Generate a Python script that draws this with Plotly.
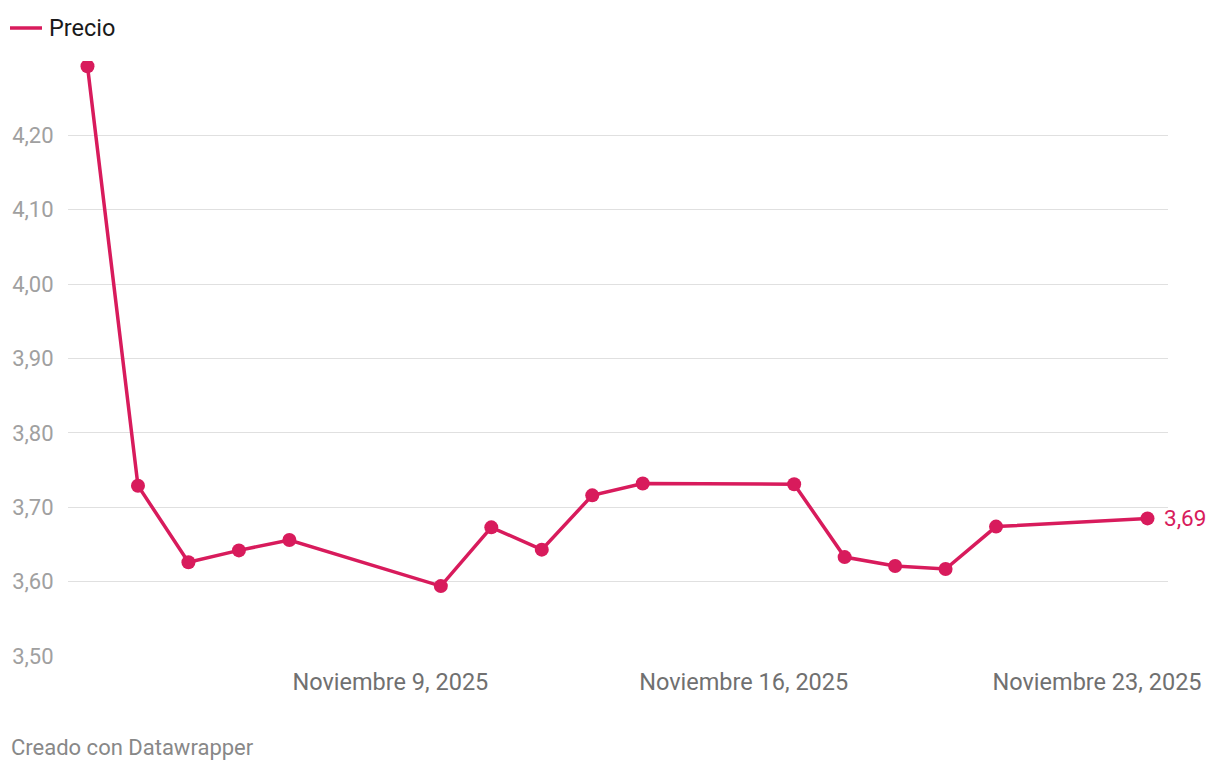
import plotly.graph_objects as go

fechas = ["2025-11-03", "2025-11-04", "2025-11-05", "2025-11-06", "2025-11-07",
          "2025-11-10", "2025-11-11", "2025-11-12", "2025-11-13", "2025-11-14",
          "2025-11-17", "2025-11-18", "2025-11-19", "2025-11-20", "2025-11-21",
          "2025-11-24"]
precio = [4.293, 3.729, 3.626, 3.642, 3.656,
          3.594, 3.673, 3.643, 3.716, 3.732,
          3.731, 3.633, 3.621, 3.617, 3.674,
          3.685]

x_tickvals = ["2025-11-09", "2025-11-16", "2025-11-23"]
x_ticktext = ["Noviembre 9, 2025", "Noviembre 16, 2025", "Noviembre 23, 2025"]
y_tickvals = [3.5, 3.6, 3.7, 3.8, 3.9, 4.0, 4.1, 4.2]
y_ticktext = ["3,50", "3,60", "3,70", "3,80", "3,90", "4,00", "4,10", "4,20"]

COLOR = "#d81b5c"
FONT = "Roboto"

# page has an 8px body margin, so the figure is drawn 8px smaller
W, H = 1212, 764
ML, MR, MT, MB = 60, 52, 53, 116
PW, PH = W - ML - MR, H - MT - MB

fig = go.Figure()
fig.add_trace(go.Scatter(
    x=fechas, y=precio, mode="lines+markers", name="Precio",
    line=dict(color=COLOR, width=3.5),
    marker=dict(color=COLOR, size=14),
    showlegend=False, hoverinfo="skip",
))

fig.update_layout(
    width=W, height=H,
    margin=dict(l=ML, r=MR, t=MT, b=MB, autoexpand=False),
    paper_bgcolor="white", plot_bgcolor="white",
    font=dict(family=FONT, size=20, color="#a0a0a0"),
    separators=",.",
    xaxis=dict(
        type="date", automargin=False,
        range=["2025-11-02 14:44", "2025-11-24 09:45"],
        tickvals=x_tickvals, ticktext=x_ticktext,
        showgrid=False, zeroline=False, showline=False,
        ticks="outside", ticklen=5, tickcolor="rgba(0,0,0,0)",
        tickfont=dict(family=FONT, size=23.5, color="#707070"),
    ),
    yaxis=dict(
        automargin=False,
        range=[3.5, 4.3],
        tickvals=y_tickvals, ticktext=y_ticktext,
        showgrid=True, gridcolor="#e0e0e0", gridwidth=1.3,
        zeroline=False, showline=False,
        ticks="outside", ticklen=9, tickcolor="rgba(0,0,0,0)",
        tickfont=dict(family=FONT, size=22, color="#a0a0a0"),
    ),
)

# legend
ly = 1 + (MT - 20) / PH
fig.add_shape(type="line", xref="paper", yref="paper",
              x0=(2 - ML) / PW, x1=(34 - ML) / PW, y0=ly, y1=ly,
              line=dict(color=COLOR, width=3.5))
fig.add_annotation(xref="paper", yref="paper", x=(39 - ML) / PW, y=ly,
                   text="Precio", showarrow=False, xanchor="left", yanchor="middle",
                   font=dict(family=FONT, size=23.5, color="#1a1a1a"))

# last value label
fig.add_annotation(x=fechas[-1], y=precio[-1], text="3,69", showarrow=False,
                   xanchor="left", yanchor="middle", xshift=15,
                   font=dict(family=FONT, size=22.5, color=COLOR))

# footer
fig.add_annotation(xref="paper", yref="paper", x=(1 - ML) / PW, y=-92 / PH,
                   text="Creado con Datawrapper", showarrow=False,
                   xanchor="left", yanchor="middle",
                   font=dict(family=FONT, size=22, color="#888888"))

fig.write_html("out.html")
